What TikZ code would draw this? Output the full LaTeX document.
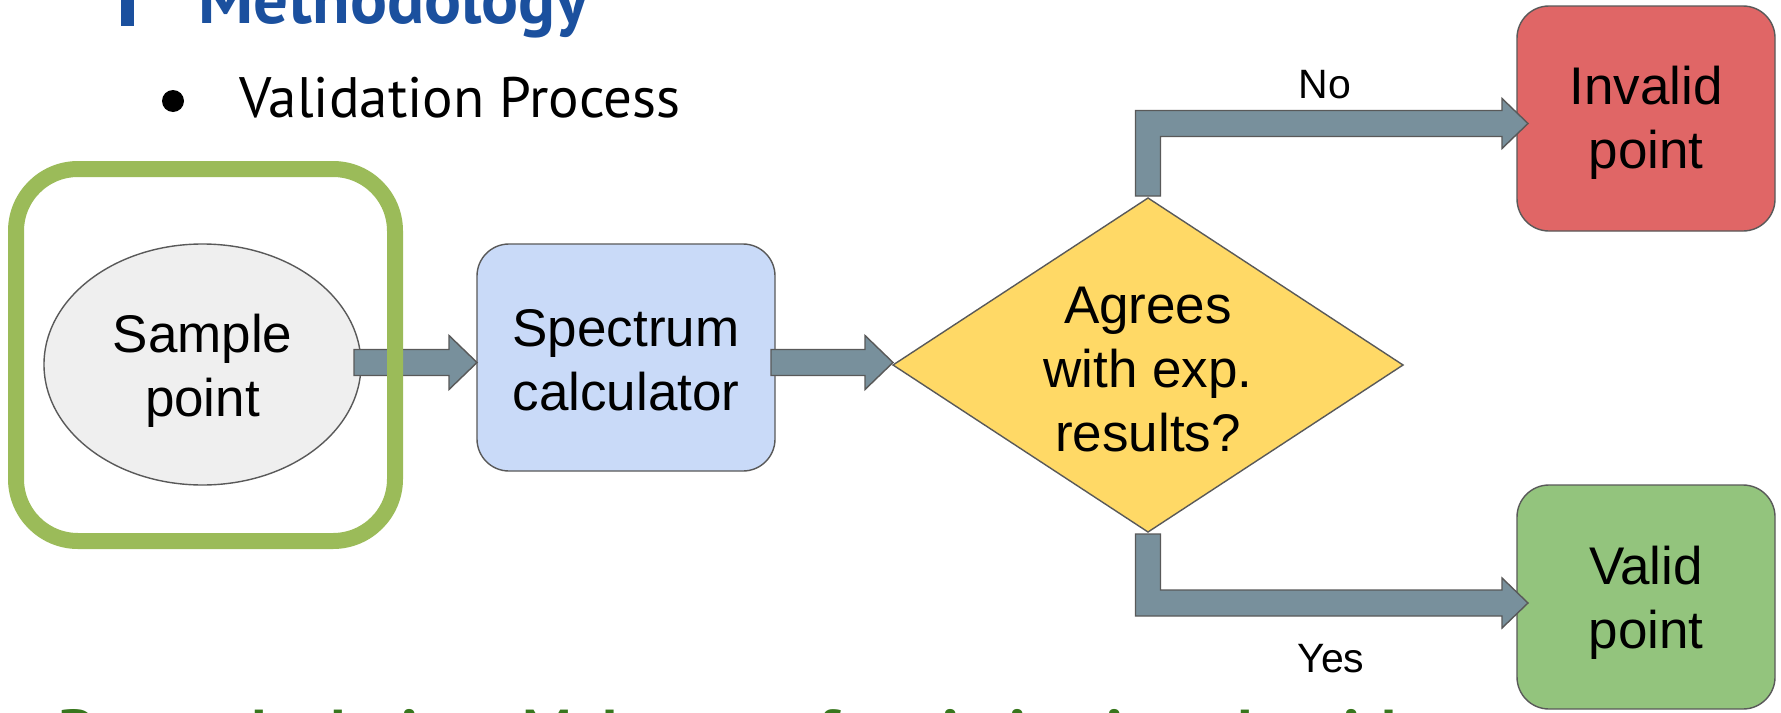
\documentclass[tikz,border=0pt]{standalone}
\usepackage{fontspec}
\setmainfont{Liberation Sans}
\newfontfamily\themefont{PT Sans}
\usetikzlibrary{shapes.geometric,calc}
\definecolor{titleblue}{HTML}{1B509E}
\definecolor{framegreen}{HTML}{9BBB59}
\definecolor{notegreen}{HTML}{38761D}
\definecolor{arrowfill}{HTML}{78909C}
\definecolor{edgegray}{HTML}{595959}
\definecolor{ellfill}{HTML}{EFEFEF}
\definecolor{specfill}{HTML}{C9DAF8}
\definecolor{decfill}{HTML}{FFD966}
\definecolor{badfill}{HTML}{E06666}
\definecolor{goodfill}{HTML}{93C47D}
% horizontal block arrow: #1 start point, #2 point whose x is the tip
\newcommand\harrow[2]{\draw[blockarrow] let \p1=#1, \p2=#2 in
  (\x1,\y1+6.5pt) -- (\x2-14pt,\y1+6.5pt) -- (\x2-14pt,\y1+13.5pt) -- (\x2,\y1)
  -- (\x2-14pt,\y1-13.5pt) -- (\x2-14pt,\y1-6.5pt) -- (\x1,\y1-6.5pt) -- cycle;}
% elbow block arrow: #1 start (vertical leg), #2 tip, #3 = 1 (up) or -1 (down)
\newcommand\earrow[3]{\draw[blockarrow] let \p1=#1, \p2=#2 in
  (\x1-6.25pt,\y1) -- (\x1-6.25pt,{\y2+(#3)*6.5pt}) -- (\x2-13pt,{\y2+(#3)*6.5pt})
  -- (\x2-13pt,{\y2+(#3)*12.5pt}) -- (\x2,\y2) -- (\x2-13pt,{\y2-(#3)*12.5pt})
  -- (\x2-13pt,{\y2-(#3)*6.5pt}) -- (\x1+6.25pt,{\y2-(#3)*6.5pt}) -- (\x1+6.25pt,\y1) -- cycle;}
\begin{document}
\begin{tikzpicture}[x=0.5pt,y=-0.5pt,
  shapebox/.style={draw=edgegray, line width=0.7pt, inner sep=0, outer sep=0},
  roundbox/.style={shapebox, rectangle, rounded corners=16pt, minimum width=129pt},
  boxtext/.style={align=center, inner sep=0, font=\fontsize{26.5}{32}\selectfont},
  blockarrow/.style={fill=arrowfill, draw=edgegray, line width=0.7pt, line join=miter},
  lab/.style={anchor=base, inner sep=0, font=\fontsize{20.5}{24}\selectfont}]
\useasboundingbox (0,0) rectangle (1781,712);
\clip (0,0) rectangle (1781,712);
\fill[white] (0,0) rectangle (1781,712);

% heading
\fill[titleblue] (121,-10) rectangle (134,26);
\node[anchor=base west, inner sep=0, text=titleblue,
  font=\themefont\bfseries\fontsize{34.5}{40}\selectfont] (title) at (198,24) {Methodology};
\fill (173,101) circle (11);
\node[anchor=base west, inner sep=0, font=\themefont\fontsize{28.5}{34}\selectfont]
  (sub) at (239,117) {Validation Process};

% shapes
\node[shapebox, ellipse, fill=ellfill, minimum width=158.5pt, minimum height=120.5pt]
  (sample) at (202.5,364.5) {};
\node[roundbox, fill=specfill, minimum width=149pt, minimum height=113.5pt]
  (spec) at (626,357.5) {};
\node[shapebox, diamond, aspect=1.53, fill=decfill, minimum width=255pt, minimum height=167pt]
  (dec) at (1148,365) {};
\node[roundbox, fill=badfill, minimum height=112.5pt] (invalid) at (1646,118.5) {};
\node[roundbox, fill=goodfill, minimum height=112pt] (valid) at (1646,597) {};

% connectors
\harrow{($(sample.east)+(-7,-2)$)}{(spec.west)}
\harrow{($(spec.east)+(-4,5)$)}{(dec.west)}
\earrow{($(dec.north)+(0,-2)$)}{($(invalid.west)+(11,5)$)}{1}
\earrow{($(dec.south)+(0,2)$)}{($(valid.west)+(11,6)$)}{-1}

% highlight frame
\node[draw=framegreen, line width=8pt, rounded corners=31pt, minimum width=189.5pt,
  minimum height=186pt, inner sep=0] (frame) at (205.5,355) {};

% texts
\node[boxtext] (sampletxt) at ($(sample)+(0,6)$) {Sample\\point};
\node[boxtext] (spectxt) at ($(spec)+(0,3)$) {Spectrum\\calculator};
\node[boxtext] (dectxt) at ($(dec)+(0,5)$) {Agrees\\with exp.\\results?};
\node[boxtext] (invalidtxt) at ($(invalid)+(0,4)$) {Invalid\\point};
\node[boxtext] (validtxt) at ($(valid)+(0,6)$) {Valid\\point};
\node[lab] (nolab) at (1325,98) {No};
\node[lab] (yeslab) at (1331,672) {Yes};

% bottom note (cut off by the slide edge)
\node[anchor=base west, inner sep=0, text=notegreen,
  font=\themefont\bfseries\fontsize{31}{37}\selectfont] (note) at (58,753)
  {Pure calculation: Make use of optimization algorithm};
\end{tikzpicture}
\end{document}
